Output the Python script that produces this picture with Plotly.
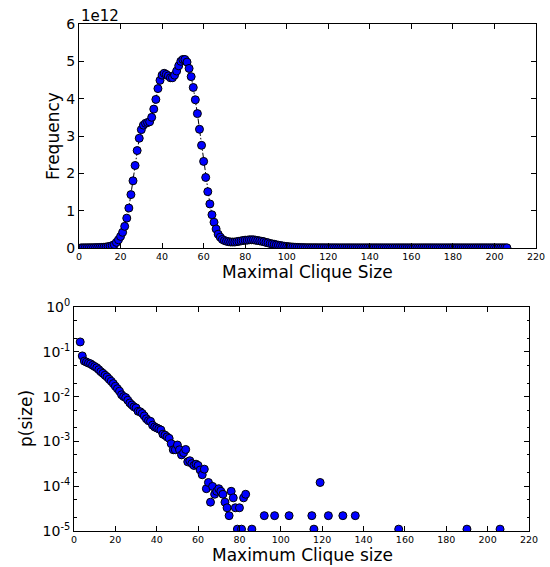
import plotly.graph_objects as go

# ---------------- data: top panel (frequency, in units of 1e12) ----------------
clique_size = list(range(1, 207))
freq_e12 = [
    0.004, 0.005, 0.006, 0.007, 0.008, 0.009, 0.010, 0.011, 0.012, 0.014,   # 1-10
    0.017, 0.021, 0.027, 0.035, 0.047, 0.065, 0.09, 0.15, 0.22, 0.31,       # 11-20
    0.42, 0.58, 0.80, 1.07, 1.43, 1.80, 2.21, 2.61, 2.94, 3.17,             # 21-30
    3.29, 3.34, 3.36, 3.38, 3.50, 3.72, 3.98, 4.27, 4.49, 4.63,             # 31-40
    4.68, 4.65, 4.61, 4.56, 4.56, 4.63, 4.74, 4.88, 5.00, 5.05,             # 41-50
    5.05, 4.98, 4.81, 4.59, 4.30, 3.97, 3.60, 3.18, 2.75, 2.32,             # 51-60
    1.89, 1.51, 1.18, 0.89, 0.69, 0.51, 0.37, 0.29, 0.23, 0.20,             # 61-70
    0.18, 0.17, 0.16, 0.16, 0.16, 0.17, 0.18, 0.19, 0.20, 0.21,             # 71-80
    0.21, 0.22, 0.22, 0.22, 0.21, 0.20, 0.19, 0.18, 0.17, 0.15,             # 81-90
    0.14, 0.12, 0.11, 0.10, 0.085, 0.075, 0.065, 0.055, 0.047, 0.040,       # 91-100
    0.034, 0.029, 0.025, 0.021, 0.018, 0.015, 0.013, 0.011, 0.010, 0.009,   # 101-110
    0.009, 0.008, 0.008, 0.008, 0.007, 0.007, 0.007, 0.007, 0.006, 0.006,   # 111-120
    0.006, 0.006, 0.006, 0.006, 0.005, 0.005, 0.005, 0.005, 0.005, 0.005,   # 121-130
    0.005, 0.005, 0.005, 0.005, 0.005, 0.005, 0.005, 0.005, 0.005, 0.005,   # 131-140
    0.005, 0.005, 0.005, 0.005, 0.005, 0.005, 0.005, 0.005, 0.005, 0.005,   # 141-150
    0.005, 0.005, 0.005, 0.005, 0.005, 0.005, 0.005, 0.005, 0.005, 0.005,   # 151-160
    0.005, 0.005, 0.005, 0.005, 0.005, 0.005, 0.005, 0.005, 0.005, 0.005,   # 161-170
    0.005, 0.005, 0.005, 0.005, 0.005, 0.005, 0.005, 0.005, 0.005, 0.005,   # 171-180
    0.005, 0.005, 0.005, 0.005, 0.005, 0.005, 0.005, 0.005, 0.005, 0.005,   # 181-190
    0.005, 0.005, 0.005, 0.005, 0.005, 0.005, 0.005, 0.005, 0.005, 0.005,   # 191-200
    0.005, 0.005, 0.005, 0.005, 0.005, 0.005,                               # 201-206
]

# ---------------- data: bottom panel (p(size), log scale) ----------------
max_size = list(range(3, 64)) + [
    64, 65, 66, 67, 68, 69, 70, 71, 72, 73, 74, 75, 76, 77, 78, 79, 80, 81, 82, 83,
    86, 92, 97, 104, 115, 116, 119, 123, 130, 136, 157, 190, 206]
p_size = [
    0.166, 0.081, 0.062, 0.059, 0.056, 0.054, 0.050, 0.047, 0.044, 0.040,      # 3-12
    0.036, 0.033, 0.030, 0.0275, 0.0245, 0.022, 0.0195, 0.017, 0.015, 0.0132,  # 13-22
    0.011, 0.0100, 0.0095, 0.0083, 0.0072, 0.0065, 0.0059, 0.0056, 0.0047, 0.0046,  # 23-32
    0.0042, 0.0037, 0.0032, 0.0029, 0.0028, 0.0023, 0.0021, 0.0020, 0.0019, 0.0018,  # 33-42
    0.00145, 0.00138, 0.00126, 0.00117, 0.00089, 0.00065, 0.00065, 0.00083, 0.00065, 0.00050,  # 43-52
    0.00056, 0.00066, 0.00035, 0.00037, 0.00032, 0.00029, 0.00031, 0.00029, 0.00023, 0.00018,  # 53-62
    0.00024,                                                                    # 63
    8.8e-5, 1.21e-4, 4.4e-5, 9.9e-5, 6.6e-5, 7.7e-5, 8.8e-5, 7.7e-5, 6.6e-5, 4.4e-5,  # 64-73
    3.3e-5, 2.2e-5, 7.7e-5, 5.5e-5, 3.3e-5, 1.1e-5, 3.3e-5, 1.1e-5, 5.5e-5, 6.6e-5,   # 74-83
    1.1e-5, 2.2e-5, 2.2e-5, 2.2e-5, 2.2e-5, 1.1e-5, 1.21e-4, 2.2e-5, 2.2e-5, 2.2e-5,  # 86-136
    1.1e-5, 1.1e-5, 1.1e-5,                                                     # 157-206
]

x_ticks = list(range(0, 221, 20))
top_y_ticks = [0, 1, 2, 3, 4, 5, 6]
log_ticks = [1e-5, 1e-4, 1e-3, 1e-2, 1e-1, 1e0]
log_tick_text = ["10<sup>-5</sup>", "10<sup>-4</sup>", "10<sup>-3</sup>",
                 "10<sup>-2</sup>", "10<sup>-1</sup>", "10<sup>0</sup>"]

W, H = 550, 567
FONT = "DejaVu Sans"
marker = dict(color="#0000ff", size=8, line=dict(color="black", width=1))

fig = go.Figure()
fig.add_trace(go.Scatter(
    x=clique_size, y=[v * 1e12 for v in freq_e12], mode="lines+markers",
    line=dict(color="black", width=1, dash="6px,2px,1.5px,2px"),
    marker=marker, xaxis="x", yaxis="y", showlegend=False))
fig.add_trace(go.Scatter(
    x=max_size, y=p_size, mode="markers", marker=marker,
    xaxis="x2", yaxis="y2", showlegend=False))

def px_x(p):
    return p / W

def px_y(p):
    return 1 - p / H

common = dict(showline=True, linecolor="black", linewidth=1, mirror="allticks",
              ticks="inside", ticklen=5, tickcolor="black", tickwidth=1,
              showgrid=False, zeroline=False, automargin=False)

fig.update_layout(
    width=W, height=H,
    margin=dict(l=0, r=0, t=0, b=0, pad=0, autoexpand=False),
    paper_bgcolor="white", plot_bgcolor="white",
    font=dict(family=FONT, color="black"),
    xaxis=dict(domain=[px_x(79), px_x(536)], anchor="y", range=[0, 220],
               tickvals=x_ticks, tickfont=dict(size=9.5), **common),
    yaxis=dict(domain=[px_y(248), px_y(24)], anchor="x", range=[0, 6e12],
               tickvals=[t * 1e12 for t in top_y_ticks],
               ticktext=[str(t) for t in top_y_ticks],
               tickfont=dict(size=14), **common),
    xaxis2=dict(domain=[px_x(74), px_x(529)], anchor="y2", range=[0, 220],
                tickvals=x_ticks, tickfont=dict(size=9.5), **common),
    yaxis2=dict(domain=[px_y(531), px_y(307)], anchor="x2", type="log",
                range=[-5, 0], tickvals=log_ticks, ticktext=log_tick_text,
                tickfont=dict(size=14),
                minor=dict(ticks="inside", ticklen=2.5, tickcolor="black",
                           showgrid=False),
                **common),
    annotations=[
        dict(text="1e12", x=px_x(79), y=px_y(16), xref="paper", yref="paper",
             xanchor="left", yanchor="middle", showarrow=False,
             font=dict(size=15)),
        dict(text="Frequency", x=px_x(53), y=px_y(136), xref="paper", yref="paper",
             textangle=-90, xanchor="center", yanchor="middle", showarrow=False,
             font=dict(size=17)),
        dict(text="Maximal Clique Size", x=px_x(307), y=px_y(272), xref="paper",
             yref="paper", xanchor="center", yanchor="middle", showarrow=False,
             font=dict(size=17)),
        dict(text="p(size)", x=px_x(26), y=px_y(419), xref="paper", yref="paper",
             textangle=-90, xanchor="center", yanchor="middle", showarrow=False,
             font=dict(size=17)),
        dict(text="Maximum Clique size", x=px_x(302), y=px_y(555), xref="paper",
             yref="paper", xanchor="center", yanchor="middle", showarrow=False,
             font=dict(size=17)),
    ],
)

fig.write_html(
    "out.html",
    config={"displayModeBar": False},
    post_script="document.body.style.margin='0';document.body.style.overflow='hidden';",
)
